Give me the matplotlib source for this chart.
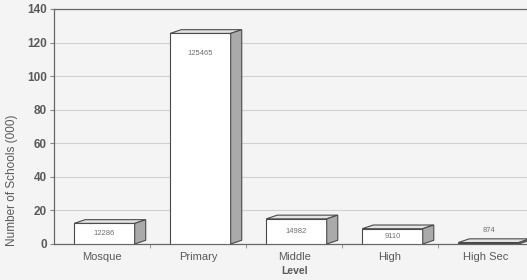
import matplotlib
matplotlib.use("Agg")
import matplotlib.pyplot as plt
import numpy as np

levels = ["Mosque", "Primary", "Middle", "High", "High Sec"]
schools = [12286, 125465, 14982, 9110, 874]   # number of schools
yticks = [0, 20, 40, 60, 80, 100, 120, 140]

plt.rcParams.update({"font.family": ["Liberation Sans", "DejaVu Sans"]})

bg = "#f4f4f4"
txt = "#5a5a5a"
edge = "#4a4a4a"

fig = plt.figure(figsize=(5.27, 2.8), dpi=100, facecolor=bg)
ax = fig.add_axes([0.1025, 0.1286, 0.911, 0.8393], facecolor=bg)

vals = np.array(schools) / 1000.0
x = np.arange(len(levels))
left, width = -0.29, 0.63
dx, dy = 0.115, 2.2

ax.bar(x + left, vals, width=width, align="edge", color="white",
       edgecolor=edge, linewidth=0.8, zorder=3)
for xi, v, n in zip(x, vals, schools):
    x0 = xi + left
    x1 = x0 + width
    # top face
    ax.fill([x0, x0 + dx, x1 + dx, x1], [v, v + dy, v + dy, v],
            facecolor="#e4e4e4", edgecolor=edge, linewidth=0.8, zorder=3)
    # side face
    ax.fill([x1, x1 + dx, x1 + dx, x1], [0, dy, v + dy, v],
            facecolor="#aaaaaa", edgecolor=edge, linewidth=0.8, zorder=3)
    ly = v + 7 if v < 3 else max(v / 2, v - 12)
    ax.text(x0 + width / 2, ly, str(n), ha="center", va="center",
            fontsize=5.5, color="#707070", zorder=4)

ax.set_xlim(-0.5, len(levels) - 0.5)
ax.set_ylim(0, 140)
ax.set_yticks(yticks)
ax.set_yticklabels([str(t) for t in yticks], fontsize=8.5, fontweight="bold", color=txt)
ax.set_xticks(x)
ax.set_xticklabels(levels, fontsize=8, color=txt)
ax.set_xticks(np.arange(len(levels)) + 0.5, minor=True)
ax.tick_params(axis="x", which="major", length=0, pad=6)
ax.tick_params(axis="x", which="minor", length=3, color="#888888")
ax.tick_params(axis="y", length=3, color="#888888", pad=2)

ax.grid(axis="y", color="#d0d0d0", linewidth=0.8, zorder=0)
for s in ["left", "top", "bottom"]:
    ax.spines[s].set_color("#666666")
    ax.spines[s].set_linewidth(0.9)
ax.spines["right"].set_visible(False)

ax.set_ylabel("Number of Schools (000)", fontsize=8.5, color=txt, labelpad=5)
ax.yaxis.set_label_coords(-0.075, 0.27)
ax.set_xlabel("Level", fontsize=7.5, fontweight="bold", color=txt, labelpad=3)

fig.savefig("out.png", dpi=100, facecolor=bg)
